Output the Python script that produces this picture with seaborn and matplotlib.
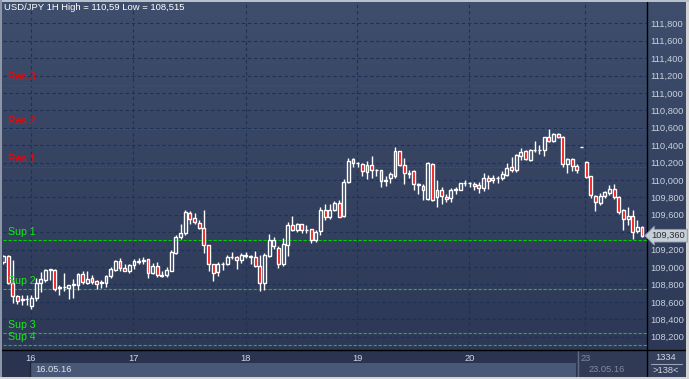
import numpy as np
import matplotlib
matplotlib.use('Agg')
import matplotlib.pyplot as plt
import seaborn as sns
from matplotlib.patches import Rectangle
from matplotlib.colors import LinearSegmentedColormap

# hourly USD/JPY candles, 138 bars
opens = [109.06, 109.13, 108.82, 108.67, 108.62, 108.63, 108.55, 108.65, 108.82, 108.85,
         108.97, 108.97, 108.76, 108.77, 108.76, 108.79, 108.79, 108.92, 108.82, 108.87,
         108.84, 108.82, 108.82, 108.90, 108.97, 109.07, 108.99, 108.96, 109.02, 109.06,
         109.07, 109.09, 108.93, 109.01, 108.90, 108.91, 108.96, 109.16, 109.35, 109.39,
         109.62, 109.56, 109.51, 109.45, 109.25, 109.03, 108.94, 109.03, 109.03, 109.11,
         109.11, 109.08, 109.13, 109.13, 109.11, 109.01, 108.82, 109.13, 109.24, 109.22,
         109.03, 109.25, 109.48, 109.42, 109.49, 109.42, 109.44, 109.31, 109.41, 109.66,
         109.58, 109.65, 109.73, 109.59, 109.98, 110.24, 110.19, 110.18, 110.09, 110.17,
         110.12, 110.11, 109.99, 110.02, 110.04, 110.33, 110.17, 110.07, 110.10, 109.94,
         109.93, 109.78, 110.18, 109.80, 109.89, 109.81, 109.79, 109.89, 109.89, 109.96,
         109.96, 109.95, 109.94, 109.91, 110.02, 110.00, 110.02, 110.02, 110.06, 110.15,
         110.11, 110.28, 110.33, 110.23, 110.34, 110.34, 110.34, 110.49, 110.45, 110.53,
         110.49, 110.18, 110.24, 110.16, 110.38, 110.21, 110.04, 109.82, 109.74, 109.82,
         109.85, 109.90, 109.81, 109.65, 109.55, 109.59, 109.41, 109.46]
highs = [109.14, 109.14, 109.08, 108.68, 108.68, 108.68, 108.68, 108.87, 108.94, 108.98,
         108.98, 108.98, 108.79, 108.93, 108.79, 108.86, 108.93, 108.95, 108.96, 108.91,
         108.85, 108.85, 108.91, 109.00, 109.08, 109.10, 109.03, 109.04, 109.09, 109.10,
         109.11, 109.09, 109.05, 109.06, 108.96, 109.00, 109.20, 109.37, 109.50, 109.65,
         109.64, 109.62, 109.54, 109.65, 109.25, 109.04, 109.06, 109.06, 109.14, 109.17,
         109.13, 109.16, 109.17, 109.14, 109.18, 109.14, 109.16, 109.38, 109.35, 109.24,
         109.33, 109.52, 109.59, 109.51, 109.50, 109.48, 109.44, 109.42, 109.69, 109.72,
         109.72, 109.76, 109.77, 110.01, 110.25, 110.25, 110.21, 110.19, 110.22, 110.27,
         110.13, 110.12, 110.04, 110.09, 110.38, 110.33, 110.25, 110.12, 110.11, 109.96,
         109.95, 110.21, 110.19, 110.00, 109.92, 109.84, 109.91, 109.92, 109.97, 110.00,
         109.98, 109.98, 109.98, 110.08, 110.06, 110.06, 110.04, 110.10, 110.20, 110.26,
         110.30, 110.37, 110.34, 110.36, 110.45, 110.40, 110.49, 110.59, 110.54, 110.54,
         110.50, 110.25, 110.25, 110.18, 110.38, 110.22, 110.05, 109.83, 109.85, 109.87,
         109.94, 109.95, 109.82, 109.67, 109.69, 109.65, 109.54, 109.47]
lows = [109.04, 108.80, 108.59, 108.57, 108.56, 108.56, 108.515, 108.61, 108.71, 108.83,
        108.85, 108.72, 108.68, 108.72, 108.63, 108.65, 108.74, 108.81, 108.81, 108.80,
        108.75, 108.76, 108.77, 108.87, 108.96, 108.96, 108.95, 108.93, 108.98, 109.04,
        109.04, 108.87, 108.92, 108.89, 108.89, 108.89, 108.95, 109.15, 109.32, 109.37,
        109.50, 109.50, 109.44, 109.16, 108.95, 108.84, 108.90, 108.97, 109.02, 109.09,
        108.98, 109.05, 109.10, 109.03, 109.00, 108.73, 108.74, 109.12, 109.21, 108.99,
        109.01, 109.13, 109.41, 109.40, 109.39, 109.39, 109.28, 109.29, 109.37, 109.54,
        109.55, 109.64, 109.57, 109.57, 109.97, 110.15, 110.15, 110.05, 110.01, 110.02,
        110.04, 109.92, 109.93, 109.96, 110.02, 110.16, 109.95, 110.02, 109.89, 109.84,
        109.77, 109.77, 109.76, 109.69, 109.72, 109.75, 109.75, 109.84, 109.88, 109.93,
        109.92, 109.88, 109.85, 109.87, 109.90, 109.96, 109.97, 110.00, 110.04, 110.09,
        110.09, 110.23, 110.23, 110.22, 110.32, 110.30, 110.28, 110.44, 110.44, 110.48,
        110.15, 110.08, 110.10, 110.08, 110.38, 110.02, 109.79, 109.64, 109.71, 109.79,
        109.83, 109.78, 109.61, 109.42, 109.48, 109.32, 109.39, 109.34]
closes = [109.13, 108.82, 108.67, 108.61, 108.63, 108.63, 108.65, 108.82, 108.86, 108.97,
          108.98, 108.75, 108.77, 108.77, 108.79, 108.80, 108.92, 108.83, 108.86, 108.83,
          108.81, 108.82, 108.90, 108.98, 109.07, 108.99, 108.96, 109.02, 109.07, 109.07,
          109.08, 108.93, 109.01, 108.91, 108.91, 108.97, 109.17, 109.35, 109.39, 109.63,
          109.55, 109.52, 109.45, 109.25, 109.03, 108.93, 109.03, 109.04, 109.12, 109.12,
          109.08, 109.14, 109.13, 109.11, 109.01, 108.82, 109.14, 109.31, 109.31, 109.03,
          109.26, 109.48, 109.43, 109.49, 109.43, 109.43, 109.31, 109.40, 109.66, 109.58,
          109.66, 109.73, 109.58, 109.98, 110.22, 110.19, 110.19, 110.10, 110.17, 110.11,
          110.11, 109.99, 110.00, 110.07, 110.33, 110.17, 110.08, 110.08, 109.95, 109.95,
          109.89, 110.19, 109.77, 109.89, 109.82, 109.78, 109.89, 109.90, 109.96, 109.96,
          109.97, 109.93, 109.91, 110.02, 109.99, 110.02, 110.02, 110.07, 110.14, 110.11,
          110.29, 110.32, 110.24, 110.35, 110.35, 110.35, 110.49, 110.45, 110.53, 110.49,
          110.18, 110.24, 110.16, 110.11, 110.38, 110.03, 109.83, 109.75, 109.82, 109.86,
          109.90, 109.81, 109.63, 109.55, 109.59, 109.40, 109.46, 109.36]

res_levels = [111.87, 111.088, 110.58, 110.146]
res_names = ['', 'Res 3', 'Res 2', 'Res 1']
sup_levels = [109.307, 108.745, 108.239, 108.10]
sup_names = ['Sup 1', 'Sup 2', 'Sup 3', 'Sup 4']

day_labels = ['16', '17', '18', '19', '20', '23']
day_pos = [5.85, 27.85, 51.95, 75.95, 99.95, 124.85]
price_ticks = [108.2, 108.4, 108.6, 108.8, 109.0, 109.2, 109.4, 109.6,
               109.8, 110.0, 110.2, 110.4, 110.6, 110.8, 111.0, 111.2,
               111.4, 111.6, 111.8]
title = 'USD/JPY 1H High = 110,59 Low = 108,515'
last_price = 109.36
first_date = '16.05.16'
last_date = '23.05.16'
bars_total = '1334'
bars_shown = '>138<'

sns.set_theme(style='dark')
plt.rcParams['font.family'] = ['Liberation Sans', 'DejaVu Sans']

W, H = 689, 379
fig = plt.figure(figsize=(W / 100, H / 100), dpi=100)

# pixel-space background layer (window chrome)
bg = fig.add_axes([0, 0, 1, 1], zorder=0)
bg.set_xlim(0, W)
bg.set_ylim(H, 0)
bg.axis('off')
cmap = LinearSegmentedColormap.from_list('bg', ['#3f4e6d', '#2c3856'])
bg.imshow(np.linspace(0, 1, 256).reshape(-1, 1), cmap=cmap, aspect='auto',
          extent=[0, W, 350, 0], zorder=0)
bg.add_patch(Rectangle((0, 350), W, 29, fc='#2a3350', ec='none', zorder=1))
bg.add_patch(Rectangle((30, 363), 546, 14, fc='#4a5877', ec='none', zorder=2))
bg.plot([30, 30], [362, 377], color='#1e2538', lw=1, zorder=3)
bg.add_patch(Rectangle((577, 351), 69.5, 26, fc='#303a55', ec='none', zorder=3))
bg.plot([577.5, 577.5], [351, 377], color='#5d6882', lw=1, zorder=4)
bg.add_patch(Rectangle((647, 351), 39, 26, fc='#34405c', ec='none', zorder=3))
bg.plot([651, 682], [363.5, 363.5], color='#9aa4b4', lw=0.8, zorder=4)
bg.plot([646.7, 646.7], [0, 377], color='black', lw=1, zorder=5)
bg.plot([0, 686], [350.3, 350.3], color='black', lw=1, zorder=5)
bg.add_patch(Rectangle((686, 0), 3, H, fc='#d4d4d4', ec='none', zorder=6))
bg.add_patch(Rectangle((0, 377), W, 2, fc='#d4d4d4', ec='none', zorder=6))
bg.add_patch(Rectangle((0, 0), W, 1.5, fc='#b8c0cc', ec='none', zorder=6))
bg.add_patch(Rectangle((0, 0), 2, 377, fc='#8d96a6', ec='none', zorder=6))

bg.text(35, 370, first_date, color='#dde3ec', fontsize=6.7, va='center', ha='left', zorder=7)
bg.text(589, 370, last_date, color='#7f8ba0', fontsize=6.7, va='center', ha='left', zorder=7)
bg.text(666, 357, bars_total, color='#d0d8e2', fontsize=6.7, va='center', ha='center', zorder=7)
bg.text(666, 370.5, bars_shown, color='#d0d8e2', fontsize=6.7, va='center', ha='center', zorder=7)

# main price axes
ax = fig.add_axes([3 / W, 1 - 350 / H, (646.7 - 3) / W, (350 - 3) / H], zorder=1)
ax.patch.set_alpha(0)
for s in ax.spines.values():
    s.set_visible(False)

n = len(opens)
x = np.arange(n)
o = np.array(opens)
h = np.array(highs)
l = np.array(lows)
c = np.array(closes)
up = c >= o
top = np.maximum(o, c)
bot = np.minimum(o, c)

ax.vlines(x, top, h, color='white', lw=1.0, zorder=4)
ax.vlines(x, l, bot, color='white', lw=1.0, zorder=4)
body = np.maximum(top - bot, 0.004)
ax.bar(x[up], body[up], bottom=bot[up], width=0.62, facecolor='none',
       edgecolor='white', linewidth=1.0, zorder=5)
ax.bar(x[~up], body[~up], bottom=bot[~up], width=0.62, facecolor='#f00000',
       edgecolor='white', linewidth=1.0, zorder=5)

grid_kw = dict(color='#1d3156', lw=0.8, ls=(0, (3, 2.5)), zorder=1)
for p in price_ticks:
    ax.axhline(p, **grid_kw)
for d in day_pos:
    ax.axvline(d, **grid_kw)

for lv, nm in zip(res_levels, res_names):
    ax.axhline(lv, color='#d01818', lw=0.7, ls=(0, (2, 1.5)), zorder=2)
    if nm:
        ax.annotate(nm, xy=(0, lv), xycoords=('axes fraction', 'data'),
                    xytext=(5, 8), textcoords='offset pixels', color='#ff0000',
                    fontsize=7.6, va='center', ha='left', zorder=6)
for lv, nm in zip(sup_levels, sup_names):
    ax.axhline(lv, color='#00d000', lw=0.8, ls=(0, (3, 1.5)), zorder=2)
    ax.annotate(nm, xy=(0, lv), xycoords=('axes fraction', 'data'),
                xytext=(5, 8), textcoords='offset pixels', color='#11ee11',
                fontsize=7.6, va='center', ha='left', zorder=6)

ax.set_xlim(-0.1, 138.0)
ax.set_ylim(108.047, 112.033)

ax.yaxis.tick_right()
ax.set_yticks(price_ticks)
ax.set_yticklabels([f'{p:.3f}'.replace('.', ',') for p in price_ticks])
ax.tick_params(axis='y', length=0, pad=2.5, labelsize=6.7, labelcolor='#c8d0dc')
ax.set_xticks(day_pos)
ax.set_xticklabels(day_labels)
ax.tick_params(axis='x', length=0, pad=3, labelsize=6.7, labelcolor='#d2dae6')
ax.get_xticklabels()[-1].set_color('#7f8ba0')
ax.grid(False)

# current-price tag sits over the price scale, as in the terminal
ax.annotate(f'{last_price:.3f}'.replace('.', ','), xy=(1.0, last_price),
            xycoords=('axes fraction', 'data'), xytext=(5, 0), textcoords='offset pixels',
            va='center', ha='left', fontsize=6.7, color='#2a2a2a', zorder=10,
            annotation_clip=False,
            bbox=dict(boxstyle='larrow,pad=0.2', fc='#c6ced8', ec='#8a96a8', lw=0.6))

fig.text(4 / W, 1 - 8 / H, title, color='white', fontsize=6.8, va='center', ha='left', zorder=10)

fig.savefig('out.png', dpi=100)
